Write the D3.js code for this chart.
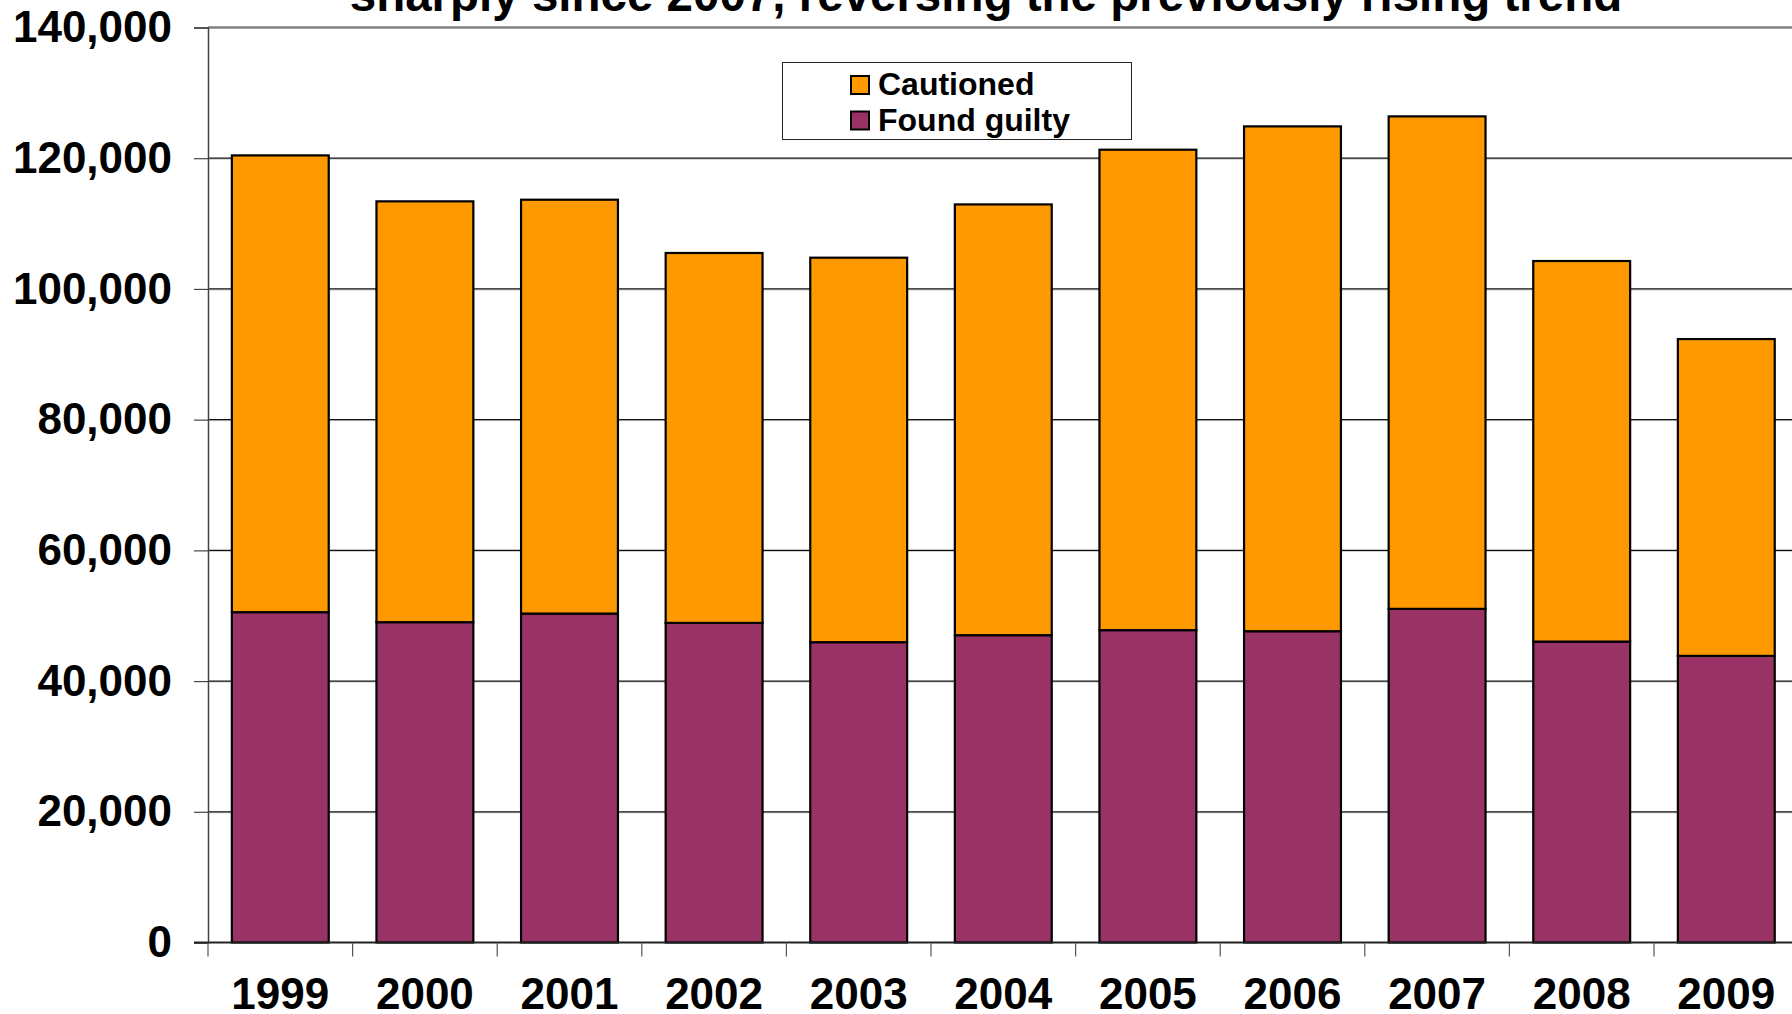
<!DOCTYPE html>
<html>
<head>
<meta charset="utf-8">
<script src="https://cdn.jsdelivr.net/npm/d3@7"></script>
<style>
  html, body { margin: 0; padding: 0; background: #fff; overflow: hidden; }
  svg { display: block; font-family: "Liberation Sans", Arial, sans-serif; font-weight: bold; }
</style>
</head>
<body>
<svg id="chart" width="1792" height="1014"></svg>
<script>
const years = ["1999","2000","2001","2002","2003","2004","2005","2006","2007","2008","2009"];
const foundGuilty = [50540, 49010, 50330, 48900, 45950, 47020, 47790, 47630, 51050, 46040, 43850];
const cautioned   = [69890, 64390, 63320, 56600, 58830, 65910, 73510, 77240, 75350, 58230, 48480];
const yTicks = [0, 20000, 40000, 60000, 80000, 100000, 120000, 140000];
const seriesNames = ["Found guilty", "Cautioned"];
const legendNames = ["Cautioned", "Found guilty"];
const titleLine = "sharply since 2007, reversing the previously rising trend";

const colors = { "Cautioned": "#FF9900", "Found guilty": "#993366" };

(function () {
const svg = d3.select("#chart");
const plotLeft = 208, plotTop = 27.5, plotBottom = 942.5;
const step = 144.6;
const plotRight = plotLeft + step * years.length;

const table = years.map((yr, i) => ({ year: yr, "Found guilty": foundGuilty[i], "Cautioned": cautioned[i] }));
const stacked = d3.stack().keys(seriesNames)(table);

const x = d3.scaleBand().domain(years).range([plotLeft, plotRight]).paddingInner(0.33).paddingOuter(0.165);
const y = d3.scaleLinear().domain([0, 140000]).range([plotBottom, plotTop]);

// gridlines
const grid = svg.append("g");
yTicks.filter(t => t > 0 && t < 140000).forEach(t => {
  grid.append("line").attr("x1", plotLeft).attr("x2", 1792).attr("y1", y(t) + 1).attr("y2", y(t) + 1)
    .attr("stroke", "#c8c8c8").attr("stroke-width", 1);
  grid.append("line").attr("x1", plotLeft).attr("x2", 1792).attr("y1", y(t)).attr("y2", y(t))
    .attr("stroke", "#111").attr("stroke-width", 1.2);
});
// plot top border
svg.append("line").attr("x1", plotLeft).attr("x2", 1792).attr("y1", y(140000)).attr("y2", y(140000))
  .attr("stroke", "#808080").attr("stroke-width", 2.5);

// y axis
const yAxis = d3.axisLeft(y).tickValues(yTicks).tickSize(14).tickPadding(22)
  .tickFormat(d3.format(","));
const ya = svg.append("g").attr("transform", `translate(${plotLeft},0)`).call(yAxis);
ya.select(".domain").attr("stroke", "#444").attr("stroke-width", 1.5);
ya.selectAll(".tick line").attr("stroke", "#444").attr("stroke-width", 1.2);
ya.selectAll(".tick text").attr("font-size", 44).attr("font-weight", "bold")
  .attr("font-family", "'Liberation Sans', Arial, sans-serif").attr("fill", "#000");

// bars
svg.append("g").selectAll("g").data(stacked).join("g")
  .attr("fill", d => colors[d.key])
  .selectAll("rect").data(d => d).join("rect")
  .attr("x", d => x(d.data.year))
  .attr("width", x.bandwidth())
  .attr("y", d => y(d[1]))
  .attr("height", d => y(d[0]) - y(d[1]))
  .attr("stroke", "#000").attr("stroke-width", 2.2);

// x axis
const xa = svg.append("g");
xa.append("line").attr("x1", plotLeft - 14).attr("x2", 1792).attr("y1", plotBottom).attr("y2", plotBottom)
  .attr("stroke", "#222").attr("stroke-width", 2);
d3.range(years.length + 1).forEach(i => {
  const xx = plotLeft + i * x.step();
  xa.append("line").attr("x1", xx).attr("x2", xx).attr("y1", plotBottom).attr("y2", plotBottom + 14)
    .attr("stroke", "#555").attr("stroke-width", 1.2);
});
xa.selectAll("text.xl").data(years).join("text").attr("class", "xl")
  .attr("x", d => x(d) + x.bandwidth() / 2).attr("y", 1009)
  .attr("text-anchor", "middle").attr("font-size", 44).text(d => d);

// title (visible second line)
svg.append("text").attr("x", 986).attr("y", 11).attr("text-anchor", "middle")
  .attr("font-size", 47.5).text(titleLine);

// legend
const lg = svg.append("g");
lg.append("rect").attr("x", 782.5).attr("y", 62.5).attr("width", 349).attr("height", 77)
  .attr("fill", "#fff").attr("stroke", "#222").attr("stroke-width", 1);
legendNames.forEach((n, i) => {
  const yy = 76 + i * 35.5;
  lg.append("rect").attr("x", 851).attr("y", yy).attr("width", 18).attr("height", 18)
    .attr("fill", colors[n]).attr("stroke", "#000").attr("stroke-width", 2);
  lg.append("text").attr("x", 878).attr("y", yy + 19).attr("font-size", 32).text(n);
});
})();
</script>
</body>
</html>
